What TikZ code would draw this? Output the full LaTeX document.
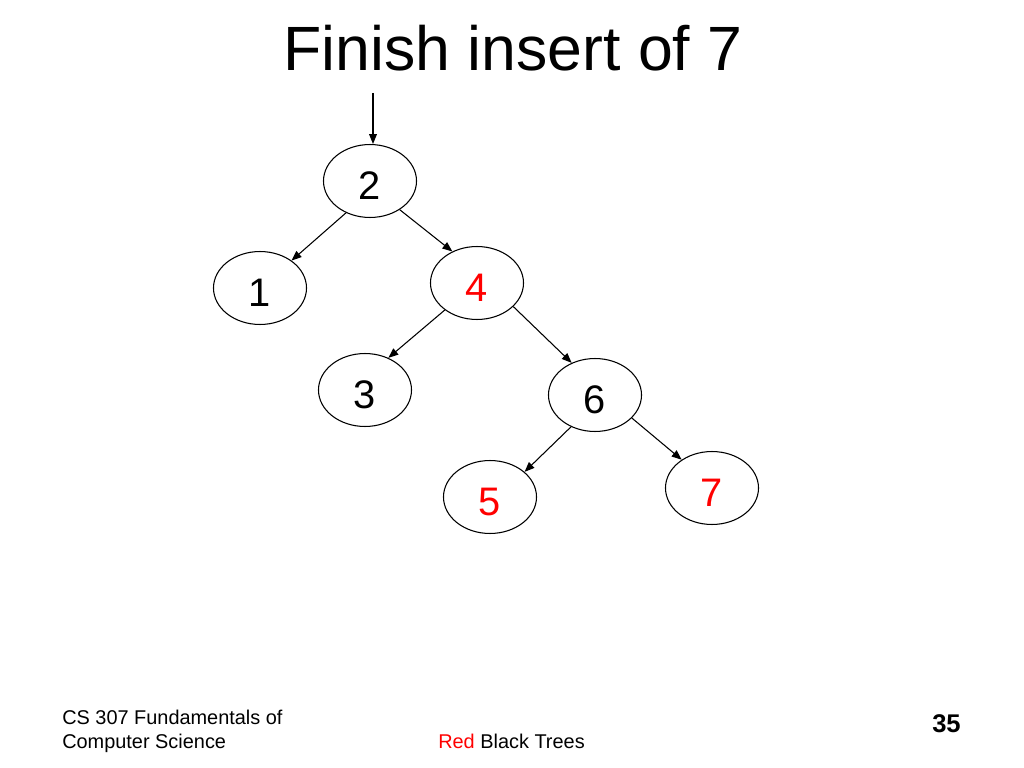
\documentclass[tikz,border=0pt]{standalone}
\usepackage{fontspec}
\setmainfont{Liberation Sans}
\usetikzlibrary{arrows.meta,shapes.geometric,positioning}
\definecolor{rbred}{RGB}{255,0,0}

\begin{document}
\begin{tikzpicture}[
    x=0.703125pt, y=-0.703125pt,
    keynode/.style={ellipse, draw, line width=0.75pt, minimum width=65.4pt, minimum height=51.3pt, inner sep=0pt, text height=25.6pt, font=\fontsize{28}{34}\selectfont},
    rednode/.style={keynode, text=rbred},
    link/.style={-{Triangle[length=7pt,width=5.5pt]}, line width=0.75pt},
    footer/.style={anchor=base west, inner sep=0pt, font=\fontsize{14}{17}\selectfont}
]
    \useasboundingbox (0,0) rectangle (1024,768);
    \node[anchor=base, inner sep=0pt, font=\fontsize{44}{53}\selectfont] (title) at (513,71) {Finish insert of 7};

    % the tree
    \node[keynode] (n2) at (370,181) {2};
    \node[keynode] (n1) at (260,288) {1};
    \node[rednode] (n4) at (477,283) {4};
    \node[keynode] (n3) at (365,390) {3};
    \node[keynode] (n6) at (595,395) {6};
    \node[rednode] (n5) at (490,497) {5};
    \node[rednode] (n7) at (712,488) {7};

    \coordinate (root) at (373,93);
    \draw[link] (root) -- (root |- n2.north);
    \draw[link] (n2.233) -- (n1.41);
    \draw[link] (n2.316) -- (n4.128);
    \draw[link] (n4.220) -- (n3.54);
    \draw[link] (n4.327) -- (n6.126);
    \draw[link] (n6.233) -- (n5.36);
    \draw[link] (n6.328) -- (n7.137);

    % footer
    \node[footer] (course) at (62,724) {CS 307 Fundamentals of};
    \node[footer] (course2) at (62,748) {Computer Science};
    \node[footer] (topic) at (438,748) {\textcolor{rbred}{Red} Black Trees};
    \node[anchor=base east, inner sep=0pt, font=\fontsize{18}{22}\selectfont\bfseries] (page) at (961,732) {35};
\end{tikzpicture}
\end{document}
